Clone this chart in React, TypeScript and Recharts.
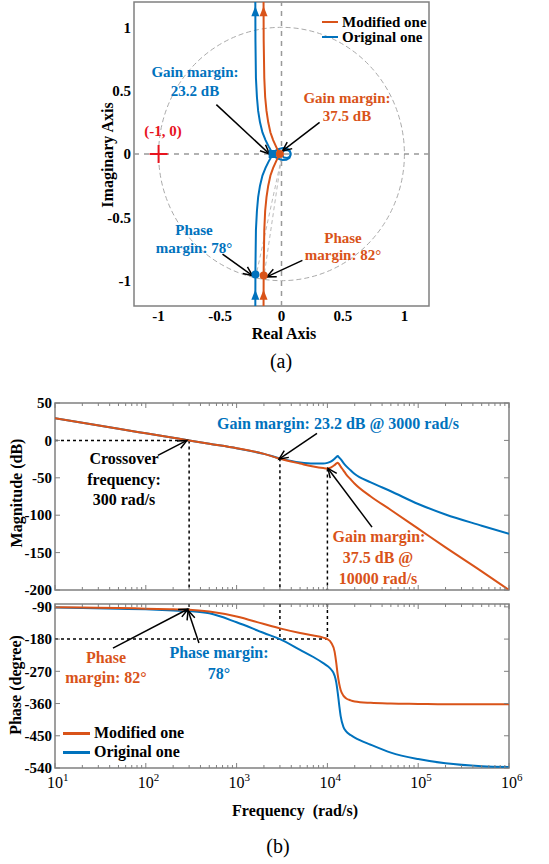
import { LineChart, Line, XAxis, YAxis, ReferenceLine, ReferenceDot, ReferenceArea } from 'recharts'

const BLUE = '#0072BD'
const ORANGE = '#D95319'
const RED = '#E8141E'
const FRAME = '#808080'
const FONT = '"Liberation Serif", "Times New Roman", serif'

// ---- Nyquist (a): lower half of each curve ----
const nyqTicks = [-1, -0.5, 0, 0.5, 1]
const originalRe = [-0.213, -0.212, -0.208, -0.2, -0.19, -0.175, -0.155, -0.13, -0.105, -0.085, -0.069, -0.05, -0.02, 0.01, 0.04, 0.065, 0.075, 0.068, 0.045, 0.02, 0.006, 0]
const originalIm = [-1.2, -0.9, -0.6, -0.45, -0.34, -0.25, -0.17, -0.11, -0.06, -0.025, 0, 0.025, 0.04, 0.048, 0.045, 0.03, 0.005, -0.02, -0.032, -0.028, -0.012, 0]
const modifiedRe = [-0.146, -0.145, -0.14, -0.133, -0.122, -0.108, -0.09, -0.068, -0.045, -0.028, -0.0133, -0.008, 0, 0.006, 0]
const modifiedIm = [-1.2, -0.9, -0.6, -0.45, -0.34, -0.25, -0.17, -0.11, -0.06, -0.025, 0, 0.012, 0.015, 0.008, 0]

// ---- Bode (b) ----
const freq = [10, 20, 50, 100, 200, 300, 500, 1000, 2000, 3000, 5000, 7000, 9000, 10000, 11000, 12000, 12500, 13000, 13500, 14000, 15000, 16000, 18000, 20000, 30000, 50000, 100000, 200000, 500000, 1000000]
const magOriginal = [29.5, 23.5, 15.5, 9.5, 3.5, 0, -4.5, -10.5, -18, -24, -29.5, -31, -31, -30, -28, -24.5, -22.5, -21, -23, -25, -30, -34, -40, -45, -56, -68, -85, -99, -114, -125]
const magModified = [29.5, 23.5, 15.5, 9.5, 3.5, 0, -4.5, -10.5, -18, -24.5, -31, -35, -37, -37.5, -36, -33, -31, -30, -32, -35, -40, -45, -52, -58, -75, -93, -118, -143, -175, -200]
const phaseOriginal = [-92, -93, -95, -97, -100, -102, -108, -133, -163, -180, -210, -230, -247, -255, -265, -282, -300, -330, -365, -395, -425, -437, -448, -455, -475, -497, -515, -527, -535, -537]
const phaseModified = [-91, -92, -93, -95, -97, -98, -103, -117, -138, -150, -163, -170, -176, -180, -190, -215, -245, -280, -305, -322, -338, -345, -351, -354, -358, -360, -361, -362, -362, -362]
const decadeTicks = [10, 100, 1000, 10000, 100000, 1000000]
const magTicks = [50, 0, -50, -100, -150, -200]
const phaseTicks = [-90, -180, -270, -360, -450, -540]

const toPoints = (re: number[], im: number[]) => re.map((r, i) => ({ re: r, im: im[i] }))
const closeCurve = (lower: { re: number; im: number }[]) =>
  lower.concat(lower.slice().reverse().map((p) => ({ re: p.re, im: -p.im })))

const originalCurve = closeCurve(toPoints(originalRe, originalIm))
const modifiedCurve = closeCurve(toPoints(modifiedRe, modifiedIm))

const bodeData = freq.map((f, i) => ({
  f,
  magOrig: magOriginal[i],
  magMod: magModified[i],
  phOrig: phaseOriginal[i],
  phMod: phaseModified[i],
}))

const logTicks: number[] = []
decadeTicks.forEach((d, i) => {
  logTicks.push(d)
  if (i < decadeTicks.length - 1) for (let k = 2; k <= 9; k++) logTicks.push(k * d)
})

// ---- shapes ----
const arrowShape = (props: any) => {
  const { x1, y1, x2, y2 } = props
  const a = Math.atan2(y2 - y1, x2 - x1)
  const L = 10
  const w = 0.42
  const p1 = `${x2 - L * Math.cos(a - w)},${y2 - L * Math.sin(a - w)}`
  const p2 = `${x2 - L * Math.cos(a + w)},${y2 - L * Math.sin(a + w)}`
  return (
    <g>
      <line x1={x1} y1={y1} x2={x2} y2={y2} stroke="#000" strokeWidth={1.5} />
      <polyline points={`${p1} ${x2},${y2} ${p2}`} fill="none" stroke="#000" strokeWidth={1.5} />
    </g>
  )
}

const circleShape = (props: any) => {
  const { x1, y1, x2, y2 } = props
  return (
    <ellipse
      cx={(x1 + x2) / 2}
      cy={(y1 + y2) / 2}
      rx={Math.abs(x2 - x1) / 2}
      ry={Math.abs(y2 - y1) / 2}
      fill="none"
      stroke="#aaa"
      strokeWidth={1}
      strokeDasharray="5 3"
    />
  )
}

const triangle = (color: string) => (props: any) => {
  const { cx, cy } = props
  return <polygon points={`${cx},${cy - 6} ${cx - 4},${cy + 4} ${cx + 4},${cy + 4}`} fill={color} />
}
const dot = (color: string) => (props: any) => <circle cx={props.cx} cy={props.cy} r={4} fill={color} />
const square = (color: string) => (props: any) => (
  <rect x={props.cx - 4} y={props.cy - 4} width={8} height={8} fill={color} />
)
const cross = (props: any) => (
  <g stroke={RED} strokeWidth={2}>
    <line x1={props.cx - 9} y1={props.cy} x2={props.cx + 9} y2={props.cy} />
    <line x1={props.cx} y1={props.cy - 9} x2={props.cx} y2={props.cy + 9} />
  </g>
)

// ---- ticks ----
const NyqXTick = (props: any) => (
  <text x={props.x} y={props.y + 15} textAnchor="middle" fontFamily={FONT} fontWeight="bold" fontSize={15} fill="#000">
    {props.payload.value}
  </text>
)
const NyqYTick = (props: any) => (
  <text x={props.x - 3} y={props.y} dy="0.35em" textAnchor="end" fontFamily={FONT} fontWeight="bold" fontSize={15} fill="#000">
    {props.payload.value}
  </text>
)

const makeLogTick = (plotH: number, showLabel: boolean) => (props: any) => {
  const { x, y, payload } = props
  const v = payload.value
  const major = decadeTicks.includes(v)
  const len = major ? 5 : 3
  return (
    <g>
      <line x1={x} y1={y} x2={x} y2={y - len} stroke={FRAME} strokeWidth={1} />
      <line x1={x} y1={y - plotH} x2={x} y2={y - plotH + len} stroke={FRAME} strokeWidth={1} />
      {showLabel && major && (
        <g fontFamily={FONT} fill="#000">
          <text x={x} y={y + 20} textAnchor="middle" fontSize={16}>10</text>
          <text x={x + 8} y={y + 13} textAnchor="start" fontSize={11}>{Math.round(Math.log10(v))}</text>
        </g>
      )}
    </g>
  )
}

const makeYTick = (plotW: number) => (props: any) => {
  const { x, y, payload } = props
  return (
    <g>
      <line x1={x} y1={y} x2={x + 5} y2={y} stroke={FRAME} strokeWidth={1} />
      <line x1={x + plotW} y1={y} x2={x + plotW - 5} y2={y} stroke={FRAME} strokeWidth={1} />
      <text x={x - 3} y={y} dy="0.35em" textAnchor="end" fontFamily={FONT} fontWeight="bold" fontSize={15} fill="#000">
        {payload.value}
      </text>
    </g>
  )
}

const Label = ({ x, y, color = '#000', size = 15, bold = true, rotate = false, children }: any) => (
  <div
    style={{
      position: 'absolute',
      left: x,
      top: y,
      transform: `translate(-50%, -50%)${rotate ? ' rotate(-90deg)' : ''}`,
      whiteSpace: 'pre',
      color,
      fontSize: size,
      fontWeight: bold ? 'bold' : 'normal',
      lineHeight: 1,
      fontFamily: FONT,
    }}
  >
    {children}
  </div>
)

const LegendRow = ({ x, y, lineW, color, text, thick, size = 15 }: any) => (
  <>
    <div style={{ position: 'absolute', left: x, top: y - thick / 2, width: lineW, height: thick, background: color }} />
    <div
      style={{
        position: 'absolute',
        left: x + lineW + 4,
        top: y,
        transform: 'translateY(-50%)',
        fontFamily: FONT,
        fontWeight: 'bold',
        fontSize: size,
        lineHeight: 1,
        whiteSpace: 'pre',
      }}
    >
      {text}
    </div>
  </>
)

const dotted = { stroke: '#000', strokeWidth: 1.5, strokeDasharray: '3 3', ifOverflow: 'visible' as const }

export default function App() {
  const magPlotH = 187
  const phPlotH = 164
  const plotW = 454
  return (
    <div style={{ position: 'absolute', left: 0, top: 0, width: 549, height: 864, background: '#fff', overflow: 'hidden', fontFamily: FONT }}>
      {/* (a) Nyquist */}
      <div style={{ position: 'absolute', left: 0, top: 0 }}>
        <LineChart width={549} height={345} margin={{ top: 2, right: 120, bottom: 9, left: 94 }}>
          <XAxis
            dataKey="re"
            type="number"
            domain={[-1.2, 1.2]}
            ticks={nyqTicks}
            allowDataOverflow
            height={30}
            axisLine={false}
            tickLine={false}
            tickSize={0}
            tickMargin={0}
            interval={0}
            tick={NyqXTick}
          />
          <YAxis
            type="number"
            domain={[-1.2, 1.2]}
            ticks={nyqTicks}
            allowDataOverflow
            width={40}
            axisLine={false}
            tickLine={false}
            tickSize={0}
            tickMargin={0}
            interval={0}
            tick={NyqYTick}
          />
          <ReferenceLine segment={[{ x: -1, y: -1 }, { x: 1, y: 1 }]} shape={circleShape} ifOverflow="visible" />
          <ReferenceLine x={0} stroke="#999" strokeWidth={1.5} strokeDasharray="5 5" />
          <ReferenceLine y={0} stroke="#999" strokeWidth={1.5} strokeDasharray="5 5" />
          <ReferenceLine segment={[{ x: 0, y: -0.03 }, { x: -0.205, y: -0.95 }]} stroke="#bbb" strokeWidth={1} strokeDasharray="4 3" />
          <ReferenceLine segment={[{ x: 0, y: -0.03 }, { x: -0.14, y: -0.95 }]} stroke="#bbb" strokeWidth={1} strokeDasharray="4 3" />
          <Line data={originalCurve} dataKey="im" stroke={BLUE} strokeWidth={2} dot={false} type="linear" isAnimationActive={false} />
          <Line data={modifiedCurve} dataKey="im" stroke={ORANGE} strokeWidth={2} dot={false} type="linear" isAnimationActive={false} />
          <ReferenceDot x={-0.213} y={1.12} r={4} shape={triangle(BLUE)} />
          <ReferenceDot x={-0.146} y={1.12} r={4} shape={triangle(ORANGE)} />
          <ReferenceDot x={-0.213} y={-1.12} r={4} shape={triangle(BLUE)} />
          <ReferenceDot x={-0.146} y={-1.12} r={4} shape={triangle(ORANGE)} />
          <ReferenceDot x={-0.072} y={0} r={4} shape={square(BLUE)} />
          <ReferenceDot x={-0.0133} y={0} r={4} shape={dot(ORANGE)} />
          <ReferenceDot x={-0.212} y={-0.952} r={4} shape={dot(BLUE)} />
          <ReferenceDot x={-0.145} y={-0.96} r={4} shape={dot(ORANGE)} />
          <ReferenceDot x={-1} y={0} r={4} shape={cross} />
          <ReferenceLine segment={[{ x: -0.53, y: 0.39 }, { x: -0.098, y: 0 }]} shape={arrowShape} />
          <ReferenceLine segment={[{ x: 0.31, y: 0.25 }, { x: 0.008, y: 0.024 }]} shape={arrowShape} />
          <ReferenceLine segment={[{ x: -0.48, y: -0.79 }, { x: -0.236, y: -0.96 }]} shape={arrowShape} />
          <ReferenceLine segment={[{ x: 0.17, y: -0.84 }, { x: -0.12, y: -0.97 }]} shape={arrowShape} />
          <ReferenceArea x1={-1.2} x2={1.2} y1={-1.2} y2={1.2} fill="none" stroke={FRAME} strokeWidth={1.5} />
        </LineChart>
      </div>

      <LegendRow x={322} y={22} lineW={16} color={ORANGE} text="Modified one" thick={2.5} />
      <LegendRow x={322} y={37} lineW={16} color={BLUE} text="Original one" thick={2.5} />

      <Label x={195} y={72} color={BLUE}>Gain margin:</Label>
      <Label x={195} y={91} color={BLUE}>23.2 dB</Label>
      <Label x={347} y={98} color={ORANGE}>Gain margin:</Label>
      <Label x={347} y={116} color={ORANGE}>37.5 dB</Label>
      <Label x={163} y={131} color={RED}>(-1, 0)</Label>
      <Label x={194} y={230} color={BLUE}>Phase</Label>
      <Label x={194} y={248} color={BLUE}>margin: 78°</Label>
      <Label x={343} y={238} color={ORANGE}>Phase</Label>
      <Label x={343} y={255} color={ORANGE}>margin: 82°</Label>
      <Label x={108} y={155} size={16} rotate>Imaginary Axis</Label>
      <Label x={284} y={334} size={16}>Real Axis</Label>
      <Label x={281} y={361} size={20} bold={false}>(a)</Label>

      {/* (b) Bode magnitude */}
      <div style={{ position: 'absolute', left: 0, top: 395 }}>
        <LineChart width={549} height={210} data={bodeData} margin={{ top: 8, right: 40, bottom: 10, left: 10 }}>
          <XAxis
            dataKey="f"
            type="number"
            scale="log"
            domain={[10, 1000000]}
            ticks={logTicks}
            allowDataOverflow
            height={5}
            axisLine={false}
            tickLine={false}
            tickSize={0}
            tickMargin={0}
            interval={0}
            tick={makeLogTick(magPlotH, false)}
          />
          <YAxis
            type="number"
            domain={[-200, 50]}
            ticks={magTicks}
            allowDataOverflow
            width={45}
            axisLine={false}
            tickLine={false}
            tickSize={0}
            tickMargin={0}
            interval={0}
            tick={makeYTick(plotW)}
          />
          <ReferenceLine segment={[{ x: 10, y: 0 }, { x: 300, y: 0 }]} {...dotted} />
          <ReferenceLine segment={[{ x: 300, y: 0 }, { x: 300, y: -200 }]} {...dotted} />
          <ReferenceLine segment={[{ x: 3000, y: -24 }, { x: 3000, y: -200 }]} {...dotted} />
          <ReferenceLine segment={[{ x: 10000, y: -37.5 }, { x: 10000, y: -200 }]} {...dotted} />
          <Line dataKey="magOrig" stroke={BLUE} strokeWidth={2} dot={false} type="monotone" isAnimationActive={false} />
          <Line dataKey="magMod" stroke={ORANGE} strokeWidth={2} dot={false} type="monotone" isAnimationActive={false} />
          <ReferenceLine segment={[{ x: 136, y: -20 }, { x: 284, y: 0 }]} shape={arrowShape} />
          <ReferenceLine segment={[{ x: 7680, y: 9.3 }, { x: 2930, y: -25 }]} shape={arrowShape} />
          <ReferenceLine segment={[{ x: 31000, y: -116 }, { x: 10150, y: -37.5 }]} shape={arrowShape} />
          <ReferenceArea x1={10} x2={1000000} y1={-200} y2={50} fill="none" stroke={FRAME} strokeWidth={1.5} />
        </LineChart>
      </div>

      <Label x={338} y={424} color={BLUE} size={16}>Gain margin: 23.2 dB @ 3000 rad/s</Label>
      <Label x={124} y={459} size={16}>Crossover</Label>
      <Label x={124} y={480} size={16}>frequency:</Label>
      <Label x={124} y={500} size={16}>300 rad/s</Label>
      <Label x={379} y={537} color={ORANGE} size={16}>Gain margin:</Label>
      <Label x={378} y={558} color={ORANGE} size={16}>37.5 dB @</Label>
      <Label x={378} y={579} color={ORANGE} size={16}>10000 rad/s</Label>
      <Label x={17} y={493} size={16} rotate>Magnitude (dB)</Label>

      {/* (b) Bode phase */}
      <div style={{ position: 'absolute', left: 0, top: 596 }}>
        <LineChart width={549} height={210} data={bodeData} margin={{ top: 8, right: 40, bottom: 8, left: 10 }}>
          <XAxis
            dataKey="f"
            type="number"
            scale="log"
            domain={[10, 1000000]}
            ticks={logTicks}
            allowDataOverflow
            height={30}
            axisLine={false}
            tickLine={false}
            tickSize={0}
            tickMargin={0}
            interval={0}
            tick={makeLogTick(phPlotH, true)}
          />
          <YAxis
            type="number"
            domain={[-540, -82]}
            ticks={phaseTicks}
            allowDataOverflow
            width={45}
            axisLine={false}
            tickLine={false}
            tickSize={0}
            tickMargin={0}
            interval={0}
            tick={makeYTick(plotW)}
          />
          <ReferenceLine segment={[{ x: 10, y: -180 }, { x: 10000, y: -180 }]} {...dotted} />
          <ReferenceLine segment={[{ x: 300, y: -82 }, { x: 300, y: -97 }]} {...dotted} />
          <ReferenceLine segment={[{ x: 3000, y: -82 }, { x: 3000, y: -180 }]} {...dotted} />
          <ReferenceLine segment={[{ x: 10000, y: -82 }, { x: 10000, y: -180 }]} {...dotted} />
          <Line dataKey="phOrig" stroke={BLUE} strokeWidth={2} dot={false} type="monotone" isAnimationActive={false} />
          <Line dataKey="phMod" stroke={ORANGE} strokeWidth={2} dot={false} type="monotone" isAnimationActive={false} />
          <ReferenceLine segment={[{ x: 43.5, y: -205 }, { x: 292, y: -96 }]} shape={arrowShape} />
          <ReferenceLine segment={[{ x: 385, y: -191 }, { x: 292, y: -100 }]} shape={arrowShape} />
          <ReferenceArea x1={10} x2={1000000} y1={-540} y2={-82} fill="none" stroke={FRAME} strokeWidth={1.5} />
        </LineChart>
      </div>

      <Label x={106} y={658} color={ORANGE} size={16}>Phase</Label>
      <Label x={106} y={678} color={ORANGE} size={16}>margin: 82°</Label>
      <Label x={219} y={653} color={BLUE} size={16}>Phase margin:</Label>
      <Label x={219} y={674} color={BLUE} size={16}>78°</Label>
      <LegendRow x={63} y={733} lineW={27} color={ORANGE} text="Modified one" thick={3} size={16} />
      <LegendRow x={63} y={752} lineW={27} color={BLUE} text="Original one" thick={3} size={16} />
      <Label x={16} y={685} size={16} rotate>Phase (degree)</Label>
      <Label x={295} y={811} size={16}>Frequency  (rad/s)</Label>
      <Label x={278} y={846} size={20} bold={false}>(b)</Label>
    </div>
  )
}
